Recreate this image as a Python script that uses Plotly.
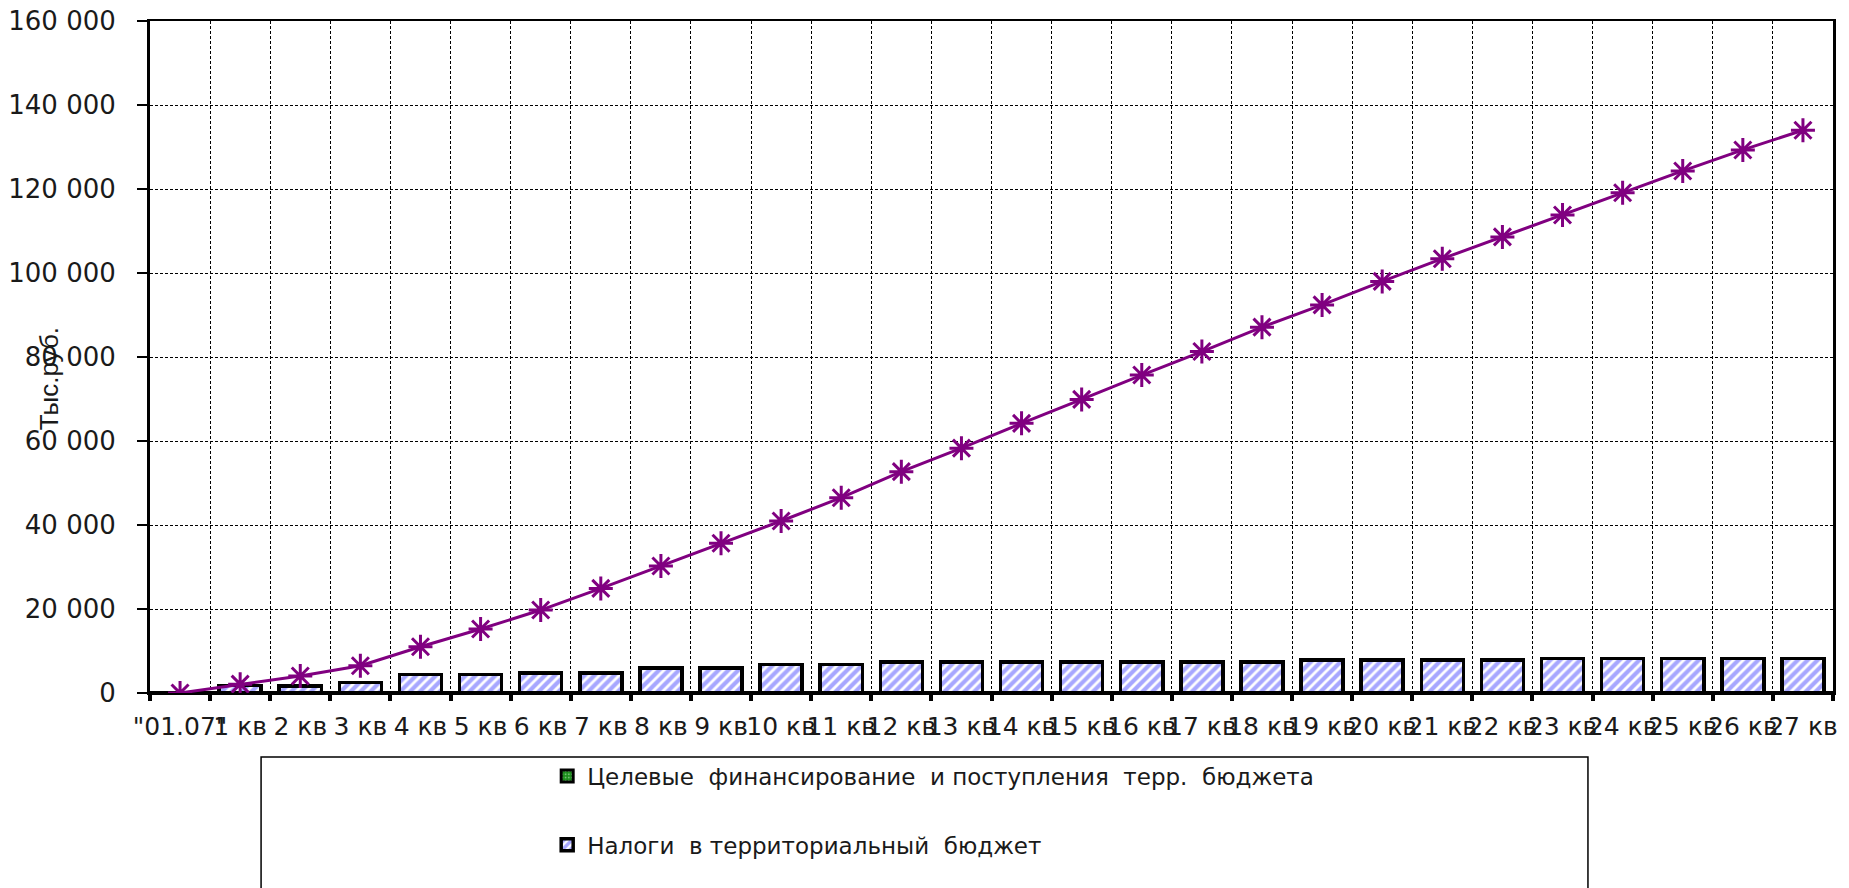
import plotly.graph_objects as go

categories = ['"01.07"'] + [f"{i} кв" for i in range(1, 28)]

# Целевые финансирование и поступления терр. бюджета (пустой ряд)
target_funding = [0] * 28

# Налоги в территориальный бюджет, тыс. руб.
taxes = [None, 1800, 1700, 2500, 4400, 4400, 4800, 4800, 5900, 5900,
         6800, 6800, 7400, 7400, 7400, 7400, 7400, 7400, 7400, 7800,
         7800, 7800, 7800, 8250, 8250, 8250, 8250, 8250]

# нарастающий итог, тыс. руб.
cumulative = [0, 2100, 4050, 6500, 11000, 15240, 19750, 24900, 30250, 35640,
              40950, 46500, 52700, 58300, 64200, 69900, 75700, 81300, 87100, 92400,
              98000, 103400, 108600, 113800, 119100, 124300, 129300, 134000]

y_ticks = list(range(0, 160001, 20000))

font_main = "DejaVu Sans"
ink = "#1a1a1a"

fig = go.Figure()

fig.add_trace(go.Bar(
    x=categories, y=target_funding,
    name="Целевые\u00a0 финансирование\u00a0 и поступления\u00a0 терр.\u00a0 бюджета",
    marker=dict(color="#1a8c1a", line=dict(color="black", width=3),
                pattern=dict(shape=".", fgcolor="#c8f5c8", bgcolor="#1a8c1a", size=4, solidity=0.3)),
    legend="legend"))

fig.add_trace(go.Bar(
    x=categories, y=taxes,
    name="Налоги\u00a0 в территориальный\u00a0 бюджет",
    marker=dict(color="#5050ff", line=dict(color="black", width=3.5),
                pattern=dict(shape="/", fgcolor="#5050ff", bgcolor="white", size=7, solidity=0.6)),
    legend="legend2"))

fig.add_trace(go.Scatter(
    x=categories, y=cumulative, mode="lines+markers",
    line=dict(color="#800080", width=3),
    marker=dict(symbol="asterisk-open", size=20, line=dict(color="#800080", width=3)),
    showlegend=False))

# страница имеет отступ body 8px, поэтому размеры и поля уменьшены на 8
fig.update_layout(
    width=1841, height=880,
    margin=dict(l=142, r=16, t=13, b=195, autoexpand=False),
    paper_bgcolor="white", plot_bgcolor="white",
    barmode="stack", bargap=0.3,
    separators=", ",
    font=dict(family=font_main, color=ink),
    legend=dict(x=0.236, y=-0.1235, xanchor="left", yanchor="middle",
                font=dict(size=23, family=font_main, color=ink), bgcolor="rgba(0,0,0,0)"),
    legend2=dict(x=0.236, y=-0.226, xanchor="left", yanchor="middle",
                 font=dict(size=23, family=font_main, color=ink), bgcolor="rgba(0,0,0,0)"),
)

fig.update_xaxes(
    type="category", range=[-0.5, 27.5], autorange=False,
    tickangle=0, tickson="boundaries", automargin=False,
    ticklabeloverflow="allow",
    ticks="outside", ticklen=6, tickwidth=4, tickcolor="black",
    showline=True, linecolor="black", linewidth=2, mirror=True,
    showgrid=True, gridcolor="black", gridwidth=1, griddash="3px,2px",
    tickfont=dict(size=25, family=font_main, color=ink),
    ticklabelstandoff=10)

fig.update_yaxes(
    range=[0, 160000], autorange=False, tickvals=y_ticks, tickformat=",d",
    automargin=False, ticklabeloverflow="allow",
    ticks="outside", ticklen=10, tickwidth=1.5, tickcolor="black",
    showline=True, linecolor="black", linewidth=3, mirror=True,
    showgrid=True, gridcolor="black", gridwidth=1, griddash="3px,2px",
    zeroline=True, zerolinecolor="black", zerolinewidth=4,
    tickfont=dict(size=26, family=font_main, color=ink),
    ticklabelstandoff=16)

fig.add_annotation(
    text="Тыс.руб.", textangle=-90, showarrow=False,
    xref="paper", yref="paper", x=-0.0600, y=0.467,
    xanchor="center", yanchor="middle",
    font=dict(size=26, family="Liberation Sans", color=ink))

# рамка легенды
fig.add_shape(type="rect", xref="paper", yref="paper",
              x0=0.066, x1=0.8544, y0=-0.0952, y1=-0.32,
              line=dict(color="black", width=1.5), fillcolor="rgba(0,0,0,0)")

fig.write_html("out.html")
